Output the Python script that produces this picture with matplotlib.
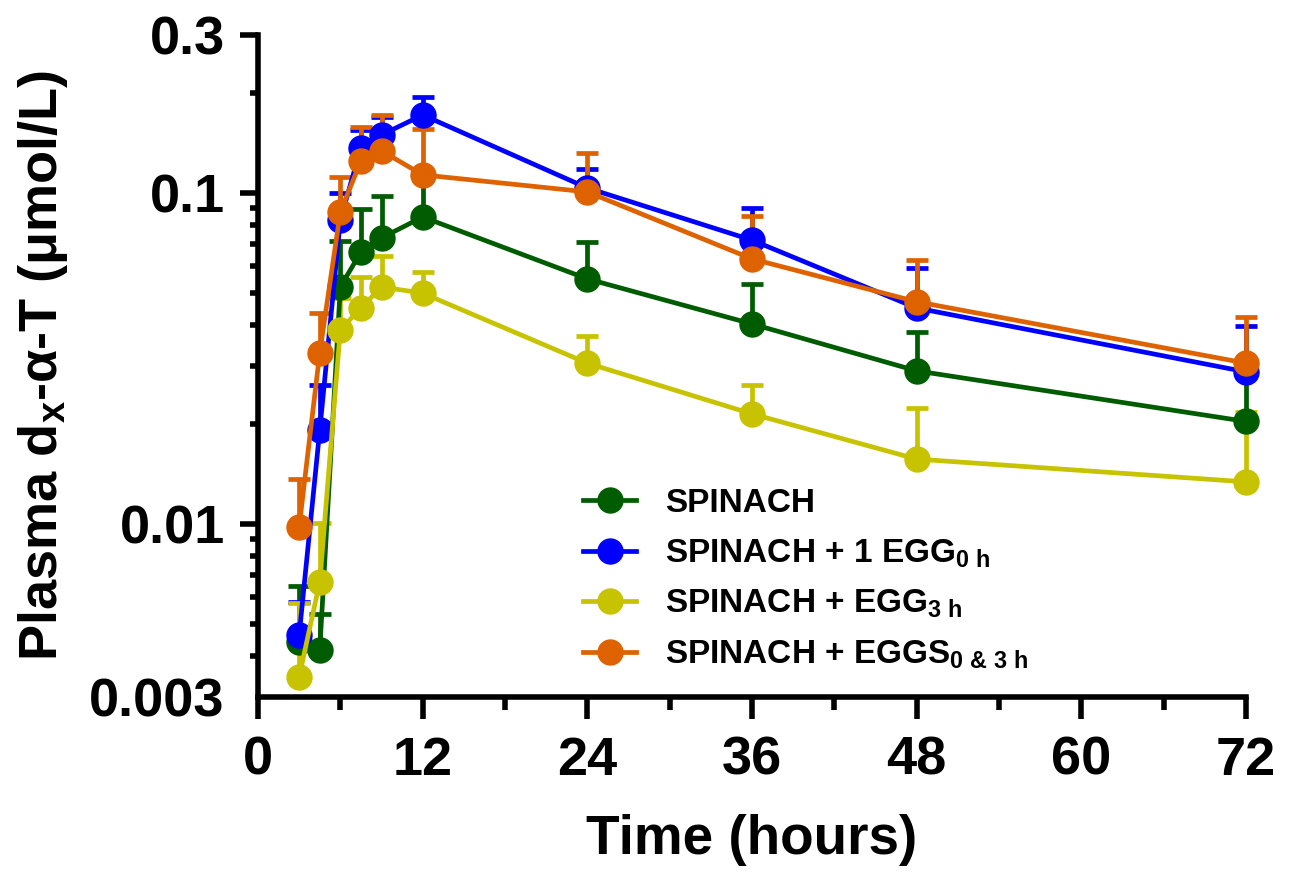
import numpy as np
import matplotlib
matplotlib.use("Agg")
import matplotlib.pyplot as plt
from matplotlib.lines import Line2D
from matplotlib.ticker import FixedLocator, NullFormatter, FixedFormatter

plt.rcParams['font.family'] = ['Liberation Sans', 'DejaVu Sans']
plt.rcParams['font.weight'] = 'bold'
plt.rcParams['mathtext.fontset'] = 'custom'
plt.rcParams['mathtext.rm'] = 'Liberation Sans:bold'
plt.rcParams['mathtext.bf'] = 'Liberation Sans:bold'
plt.rcParams['mathtext.it'] = 'Liberation Sans:bold'
plt.rcParams['mathtext.default'] = 'bf'

# data
time_h = [3, 4.5, 6, 7.5, 9, 12, 24, 36, 48, 72]

spinach = [0.0044, 0.00416, 0.052, 0.0663, 0.0731, 0.0846, 0.055, 0.0402, 0.029, 0.0204]
spinach_err = [0.0021, 0.0012, 0.0196, 0.0231, 0.0249, 0.025, 0.0161, 0.0128, 0.009, 0.0074]

egg_0h = [0.00462, 0.0192, 0.0829, 0.137, 0.1497, 0.172, 0.1035, 0.072, 0.0449, 0.0288]
egg_0h_err = [0.0012, 0.0071, 0.0171, 0.018, 0.020, 0.023, 0.0145, 0.018, 0.0145, 0.0108]

egg_3h = [0.00345, 0.00668, 0.0386, 0.0449, 0.052, 0.0498, 0.0306, 0.0215, 0.0157, 0.0134]
egg_3h_err = [0.0023, 0.0034, 0.0096, 0.0108, 0.0125, 0.0079, 0.0064, 0.0048, 0.0067, 0.0084]

eggs_03h = [0.0098, 0.0329, 0.0876, 0.125, 0.134, 0.1134, 0.1007, 0.0632, 0.0469, 0.0306]
eggs_03h_err = [0.0039, 0.0105, 0.0242, 0.033, 0.038, 0.0426, 0.0313, 0.022, 0.0159, 0.0116]

labels = ['SPINACH',
          r'SPINACH + 1 EGG$_{0\ h}$',
          r'SPINACH + EGG$_{3\ h}$',
          r'SPINACH + EGGS$_{0\ &\ 3\ h}$']
colors = ['#005C00', '#0000FF', '#C8C300', '#DE6200']

series = [(spinach, spinach_err), (egg_0h, egg_0h_err),
          (egg_3h, egg_3h_err), (eggs_03h, eggs_03h_err)]

fig = plt.figure(figsize=(12.9, 8.88), dpi=100)
ax = fig.add_axes([258/1290, 1 - 697/888, (1246 - 258)/1290, (697 - 35)/888])

handles = []
for (vals, err), col, lab in zip(series, colors, labels):
    err = np.array(err)
    eb = ax.errorbar(time_h, vals, yerr=[np.zeros_like(err), err],
                     color=col, marker='o', markersize=18, linewidth=3.4,
                     elinewidth=3.4, capsize=8, capthick=3.4, clip_on=False)
    for c in eb[1]:
        c.set_clip_on(False)
    for b in eb[2]:
        b.set_clip_on(False)
    handles.append(Line2D([], [], color=col, marker='o', markersize=18, linewidth=3.4))

ax.set_yscale('log')
ax.set_xlim(0, 72)
ax.set_ylim(0.003, 0.3)

ax.xaxis.set_major_locator(FixedLocator([0, 12, 24, 36, 48, 60, 72]))
ax.xaxis.set_minor_locator(FixedLocator([6, 18, 30, 42, 54, 66]))

yt = [0.003, 0.01, 0.1, 0.3]
ax.yaxis.set_major_locator(FixedLocator(yt))
ax.yaxis.set_major_formatter(FixedFormatter(['0.003', '0.01', '0.1', '0.3']))
minor = [m * d for d in (0.001, 0.01, 0.1) for m in range(2, 10)]
minor = [v for v in minor if 0.003 < v < 0.3 and abs(v - 0.1) > 1e-9 and abs(v - 0.01) > 1e-9]
ax.yaxis.set_minor_locator(FixedLocator(minor))
ax.yaxis.set_minor_formatter(NullFormatter())

for s in ['top', 'right']:
    ax.spines[s].set_visible(False)
for s in ['left', 'bottom']:
    ax.spines[s].set_linewidth(4)

ax.tick_params(axis='both', which='major', width=4, labelsize=39, direction='out')
ax.tick_params(axis='x', which='major', length=16, pad=12)
ax.tick_params(axis='x', which='minor', length=9, width=4)
ax.tick_params(axis='y', which='major', length=13, pad=11)
ax.tick_params(axis='y', which='minor', length=6, width=4)
ax.yaxis.get_major_ticks()[0].tick1line.set_visible(False)

ax.set_xlabel('Time (hours)', fontsize=39.5, fontweight='bold', labelpad=20)
ax.set_ylabel(r'Plasma d$_{x}$-α-T (μmol/L)', fontsize=39, fontweight='bold', labelpad=14)

leg = ax.legend(handles=handles, labels=labels, loc='upper left',
                bbox_to_anchor=(583/1290, 1 - 488/888), bbox_transform=fig.transFigure,
                frameon=False, fontsize=24, handlelength=1.6, handletextpad=0.85,
                labelspacing=0.55, borderpad=0, borderaxespad=0)
for t in leg.get_texts():
    t.set_fontweight('bold')

fig.savefig('out.png', dpi=100)
